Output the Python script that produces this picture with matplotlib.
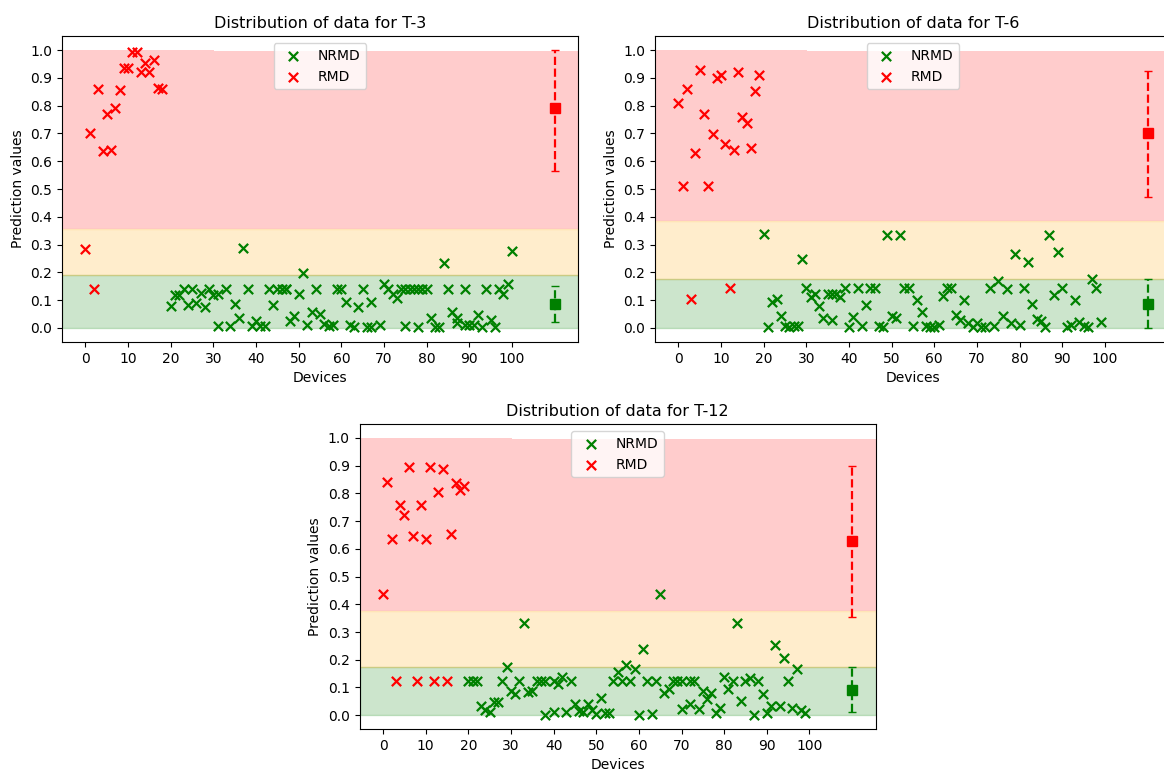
import matplotlib
matplotlib.use("Agg")
import matplotlib.pyplot as plt

# ---- T-3 ----
t3_rmd_x = [0, 1, 2, 3, 4, 5, 6, 7, 8, 9, 10, 11, 12, 13, 14, 15, 16, 17, 18]
t3_rmd_y = [0.285, 0.70, 0.139, 0.861, 0.636, 0.771, 0.642, 0.793, 0.858, 0.934,
            0.934, 0.994, 0.994, 0.922, 0.952, 0.922, 0.966, 0.865, 0.861]
t3_nrmd_x = [20, 21, 22, 23, 24, 25, 26, 27, 28, 29, 30, 31, 31, 33, 34, 35, 36, 37, 38, 39,
             40, 41, 42, 43, 44, 45, 46, 47, 47, 48, 49, 50, 51, 52, 53, 54, 55, 56, 57, 58,
             59, 60, 61, 62, 63, 64, 65, 66, 67, 67, 69, 70, 71, 72, 73, 74, 75, 75, 76, 77,
             78, 78, 79, 80, 81, 82, 83, 84, 85, 86, 87, 87, 89, 89, 90, 91, 92, 93, 94, 95,
             96, 97, 98, 99, 100]
t3_nrmd_y = [0.078, 0.117, 0.117, 0.139, 0.082, 0.139, 0.090, 0.126, 0.076, 0.139,
             0.120, 0.008, 0.124, 0.139, 0.008, 0.087, 0.036, 0.289, 0.139, 0.006,
             0.024, 0.008, 0.006, 0.139, 0.082, 0.139, 0.139, 0.139, 0.139, 0.024,
             0.042, 0.124, 0.199, 0.012, 0.058, 0.139, 0.050, 0.016, 0.006, 0.012,
             0.139, 0.139, 0.094, 0.012, 0.004, 0.076, 0.139, 0.004, 0.094, 0.004,
             0.012, 0.157, 0.139, 0.124, 0.108, 0.139, 0.139, 0.006, 0.139, 0.139,
             0.139, 0.004, 0.139, 0.139, 0.036, 0.004, 0.004, 0.235, 0.139, 0.058,
             0.036, 0.018, 0.139, 0.012, 0.012, 0.012, 0.046, 0.004, 0.139, 0.030,
             0.004, 0.139, 0.124, 0.160, 0.277]
t3_stats = {"rmd": (0.79, 0.565, 1.0), "nrmd": (0.085, 0.02, 0.15)}
t3_bands = (0.19, 0.355)

# ---- T-6 ----
t6_rmd_x = [0, 1, 2, 3, 4, 5, 6, 7, 8, 9, 10, 11, 12, 13, 14, 15, 16, 17, 18, 19]
t6_rmd_y = [0.81, 0.51, 0.861, 0.105, 0.629, 0.928, 0.771, 0.512, 0.699, 0.90,
            0.91, 0.663, 0.145, 0.642, 0.922, 0.759, 0.739, 0.648, 0.853, 0.91]
t6_nrmd_x = [20, 21, 22, 23, 24, 25, 26, 27, 28, 29, 30, 31, 32, 33, 34, 35, 36, 36, 37, 38,
             39, 40, 41, 42, 43, 44, 45, 46, 47, 48, 49, 50, 51, 52, 53, 54, 55, 56, 57, 58,
             59, 60, 61, 62, 63, 64, 65, 66, 67, 68, 69, 70, 71, 72, 73, 74, 75, 76, 77, 78,
             79, 80, 81, 82, 83, 84, 85, 86, 87, 88, 89, 90, 91, 92, 93, 94, 95, 96, 97, 98, 99]
t6_nrmd_y = [0.337, 0.002, 0.094, 0.105, 0.042, 0.006, 0.004, 0.006, 0.006, 0.249,
             0.145, 0.112, 0.124, 0.078, 0.036, 0.124, 0.030, 0.124, 0.124, 0.112,
             0.145, 0.002, 0.039, 0.145, 0.006, 0.082, 0.145, 0.145, 0.006, 0.002,
             0.334, 0.042, 0.036, 0.334, 0.145, 0.145, 0.006, 0.102, 0.058, 0.006,
             0.004, 0.004, 0.012, 0.114, 0.145, 0.145, 0.048, 0.030, 0.102, 0.018,
             0.002, 0.018, 0.002, 0.002, 0.145, 0.006, 0.169, 0.042, 0.141, 0.018,
             0.265, 0.010, 0.145, 0.237, 0.088, 0.033, 0.024, 0.002, 0.334, 0.117,
             0.273, 0.145, 0.002, 0.010, 0.102, 0.022, 0.006, 0.002, 0.177, 0.145, 0.020]
t6_stats = {"rmd": (0.70, 0.47, 0.925), "nrmd": (0.088, 0.0, 0.175)}
t6_bands = (0.175, 0.385)

# ---- T-12 ----
t12_rmd_x = [0, 1, 2, 3, 4, 5, 6, 7, 8, 9, 10, 11, 12, 13, 14, 15, 16, 17, 18, 19]
t12_rmd_y = [0.436, 0.841, 0.636, 0.123, 0.759, 0.723, 0.895, 0.648, 0.123, 0.759,
             0.634, 0.895, 0.123, 0.805, 0.887, 0.123, 0.654, 0.839, 0.811, 0.825]
t12_nrmd_x = [20, 21, 22, 23, 24, 25, 26, 27, 28, 29, 30, 31, 32, 33, 34, 35, 36, 37, 38, 38,
              40, 40, 41, 42, 43, 44, 45, 46, 47, 48, 49, 50, 51, 52, 53, 54, 55, 56, 57, 58,
              59, 60, 61, 62, 63, 64, 65, 66, 67, 68, 69, 70, 70, 72, 72, 73, 74, 75, 76, 77,
              78, 79, 80, 81, 82, 83, 84, 85, 86, 87, 88, 89, 90, 91, 92, 93, 94, 95, 96, 97,
              98, 99]
t12_nrmd_y = [0.123, 0.123, 0.123, 0.034, 0.018, 0.012, 0.046, 0.048, 0.123, 0.175,
              0.087, 0.075, 0.123, 0.331, 0.084, 0.087, 0.123, 0.123, 0.123, 0.000,
              0.012, 0.123, 0.111, 0.139, 0.012, 0.123, 0.039, 0.014, 0.012, 0.039,
              0.018, 0.006, 0.063, 0.008, 0.008, 0.123, 0.154, 0.123, 0.181, 0.123,
              0.165, 0.000, 0.239, 0.123, 0.006, 0.123, 0.436, 0.081, 0.093, 0.123,
              0.123, 0.123, 0.024, 0.123, 0.042, 0.123, 0.022, 0.087, 0.057, 0.081,
              0.008, 0.027, 0.139, 0.093, 0.123, 0.334, 0.051, 0.123, 0.135, 0.002,
              0.123, 0.076, 0.008, 0.034, 0.253, 0.033, 0.205, 0.123, 0.027, 0.166,
              0.018, 0.008]
t12_stats = {"rmd": (0.628, 0.355, 0.90), "nrmd": (0.092, 0.012, 0.175)}
t12_bands = (0.175, 0.375)

summary_x = 110
x_ticks = [0, 10, 20, 30, 40, 50, 60, 70, 80, 90, 100]
y_ticks = [0.0, 0.1, 0.2, 0.3, 0.4, 0.5, 0.6, 0.7, 0.8, 0.9, 1.0]


def draw_panel(ax, title, rmd_x, rmd_y, nrmd_x, nrmd_y, stats, bands):
    low, high = bands
    ax.axhspan(0, low, color="green", alpha=0.2)
    ax.axhspan(low, high, color="orange", alpha=0.2)
    ax.axhspan(high, 1.0, xmax=0.295, color="red", alpha=0.2, lw=0)
    ax.axhspan(high, 0.995, xmin=0.295, color="red", alpha=0.2, lw=0)

    ax.scatter(nrmd_x, nrmd_y, marker="x", color="green", s=45, linewidths=1.6, label="NRMD")
    ax.scatter(rmd_x, rmd_y, marker="x", color="red", s=45, linewidths=1.6, label="RMD")

    for key, col in (("rmd", "red"), ("nrmd", "green")):
        m, lo, hi = stats[key]
        eb = ax.errorbar([summary_x], [m], yerr=[[m - lo], [hi - m]], fmt="s",
                         color=col, ms=7, capsize=3, elinewidth=1.6)
        eb[-1][0].set_linestyle("--")

    ax.set_xticks(x_ticks)
    ax.set_yticks(y_ticks)
    ax.set_title(title, fontsize=11.5)
    ax.set_xlabel("Devices", fontsize=10)
    ax.set_ylabel("Prediction values", fontsize=10)
    ax.tick_params(labelsize=10)
    ax.legend(loc="upper center", fontsize=10)


fig = plt.figure(figsize=(11.64, 7.7), dpi=100)
ax1 = fig.add_axes([0.0533, 0.556, 0.4433, 0.397])
ax2 = fig.add_axes([0.5627, 0.556, 0.4433, 0.397])
ax3 = fig.add_axes([0.3089, 0.0532, 0.4433, 0.396])

draw_panel(ax1, "Distribution of data for T-3", t3_rmd_x, t3_rmd_y,
           t3_nrmd_x, t3_nrmd_y, t3_stats, t3_bands)
draw_panel(ax2, "Distribution of data for T-6", t6_rmd_x, t6_rmd_y,
           t6_nrmd_x, t6_nrmd_y, t6_stats, t6_bands)
draw_panel(ax3, "Distribution of data for T-12", t12_rmd_x, t12_rmd_y,
           t12_nrmd_x, t12_nrmd_y, t12_stats, t12_bands)

fig.savefig("out.png", dpi=100)
